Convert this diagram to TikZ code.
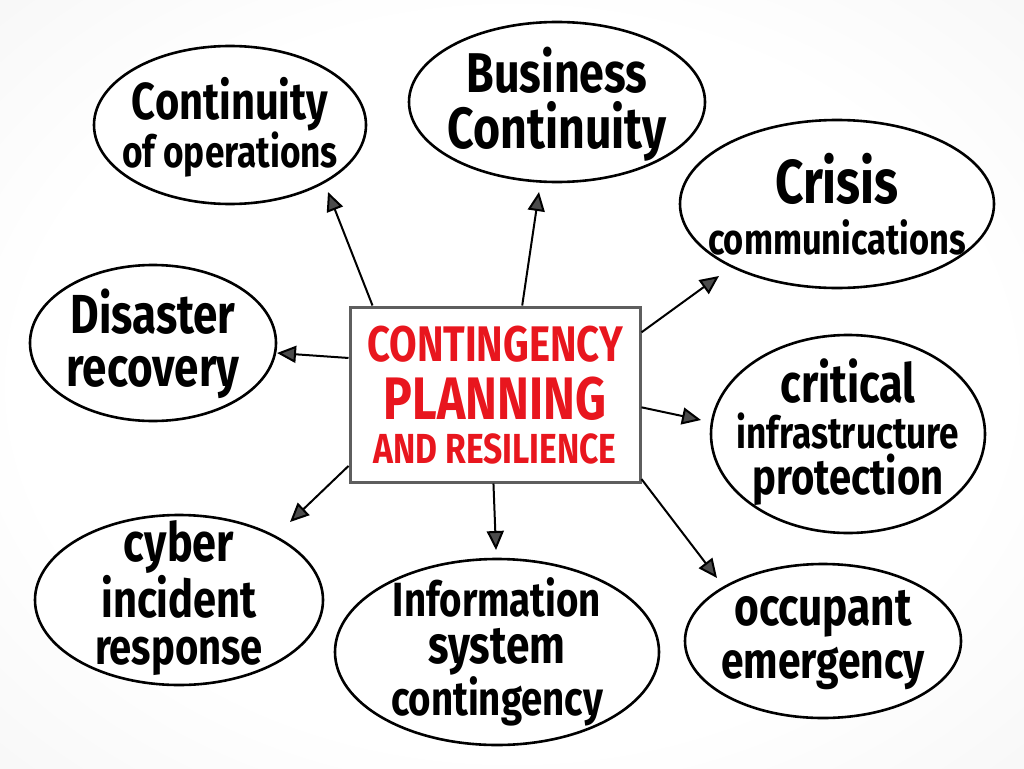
\documentclass[tikz,border=0pt]{standalone}
\usepackage{fontspec}
\setmainfont{Fira Sans}
\newfontfamily\handfont[FakeStretch=0.8]{Fira Sans}
\usetikzlibrary{shapes.geometric}
\usetikzlibrary{arrows.meta}

\definecolor{planred}{HTML}{E8161E}
\definecolor{boxgray}{HTML}{5E5E5E}

\pgfdeclareradialshading{paper}{\pgfpoint{0bp}{0bp}}{%
  color(0bp)=(white); color(24bp)=(white);
  color(72bp)=(black!12); color(100bp)=(black!12)}

\newcommand{\sz}[1]{\fontsize{#1}{#1}\selectfont}
\newcommand{\hand}[1]{\handfont\bfseries\fontsize{40}{#1}\selectfont}

\begin{document}
\begin{tikzpicture}[
    x=1pt,
    y=-1pt,
    bubble/.style={ellipse,draw=black,line width=2.6pt,fill=white,inner sep=0pt},
    words/.style={align=center,inner sep=0pt,text=black},
    link/.style={line width=2pt,-{Triangle[length=19pt,width=17pt,fill=black!70]}}
]

%------------------------------------------------------------
% Background
%------------------------------------------------------------

\shade[shading=paper]
(0,0) rectangle (1024,768);

%------------------------------------------------------------
% Bubbles
%------------------------------------------------------------

\node[bubble,minimum width=272,minimum height=158] (ops) at (230,125) {};
\node[words,font=\hand{45}] (opsT) at (230,127)
{{\sz{52}Continuity}\\{\sz{44}of operations}};

\node[bubble,minimum width=296,minimum height=160] (biz) at (557,102) {};
\node[words,font=\hand{56}] (bizT) at (557,104)
{{\sz{56}Business}\\{\sz{58}Continuity}};

\node[bubble,minimum width=314,minimum height=168] (crisis) at (837,204) {};
\node[words,font=\hand{51}] (crisisT) at (837,204)
{{\sz{62}Crisis}\\{\sz{43}communications}};

\node[bubble,minimum width=246,minimum height=156] (dr) at (153,343) {};
\node[words,font=\hand{53}] (drT) at (153,344)
{{\sz{55}Disaster}\\{\sz{55}recovery}};

\node[bubble,minimum width=274,minimum height=198] (cip) at (848,434) {};
\node[words,font=\hand{46}] (cipT) at (848,432)
{{\sz{54}critical}\\{\sz{44}infrastructure}\\{\sz{50}protection}};

\node[bubble,minimum width=288,minimum height=170] (cyber) at (179,600) {};
\node[words,font=\hand{47}] (cyberT) at (179,598)
{{\sz{54}cyber}\\{\sz{52}incident}\\{\sz{50}response}};

\node[bubble,minimum width=324,minimum height=186] (info) at (497,652) {};
\node[words,font=\hand{47}] (infoT) at (497,652)
{{\sz{48}Information}\\{\sz{53}system}\\{\sz{48}contingency}};

\node[bubble,minimum width=276,minimum height=154] (occ) at (823,641) {};
\node[words,font=\hand{53}] (occT) at (823,640)
{{\sz{53}occupant}\\{\sz{51}emergency}};

%------------------------------------------------------------
% Central box
%------------------------------------------------------------

\node[
    draw=boxgray,
    line width=3pt,
    fill=white,
    minimum width=290,
    minimum height=175,
    inner sep=0pt
] (plan) at (495,394.5) {};

\node[words,text=planred,font=\hand{50}] (planT) at (495,395)
{{\sz{50}CONTINGENCY}\\[8pt]{\sz{60}PLANNING}\\[-6pt]{\sz{42}AND RESILIENCE}};

%------------------------------------------------------------
% Arrow tips
%------------------------------------------------------------

\coordinate (opsTip) at (328,192);
\coordinate (bizTip) at (539,192);
\coordinate (crisisTip) at (719,276);
\coordinate (drTip) at (277,353);
\coordinate (cipTip) at (701,420);
\coordinate (cyberTip) at (290,522);
\coordinate (infoTip) at (496,550);
\coordinate (occTip) at (717,578);

%------------------------------------------------------------
% Arrows
%------------------------------------------------------------

\draw[link] (plan.144) -- (opsTip);
\draw[link] (plan.73.5) -- (bizTip);
\draw[link] (plan.23) -- (crisisTip);
\draw[link] (plan.166.6) -- (drTip);
\draw[link] (plan.-5.3) -- (cipTip);
\draw[link] (plan.206.6) -- (cyberTip);
\draw[link] (plan.269) -- (infoTip);
\draw[link] (plan.-30) -- (occTip);

\end{tikzpicture}
\end{document}
